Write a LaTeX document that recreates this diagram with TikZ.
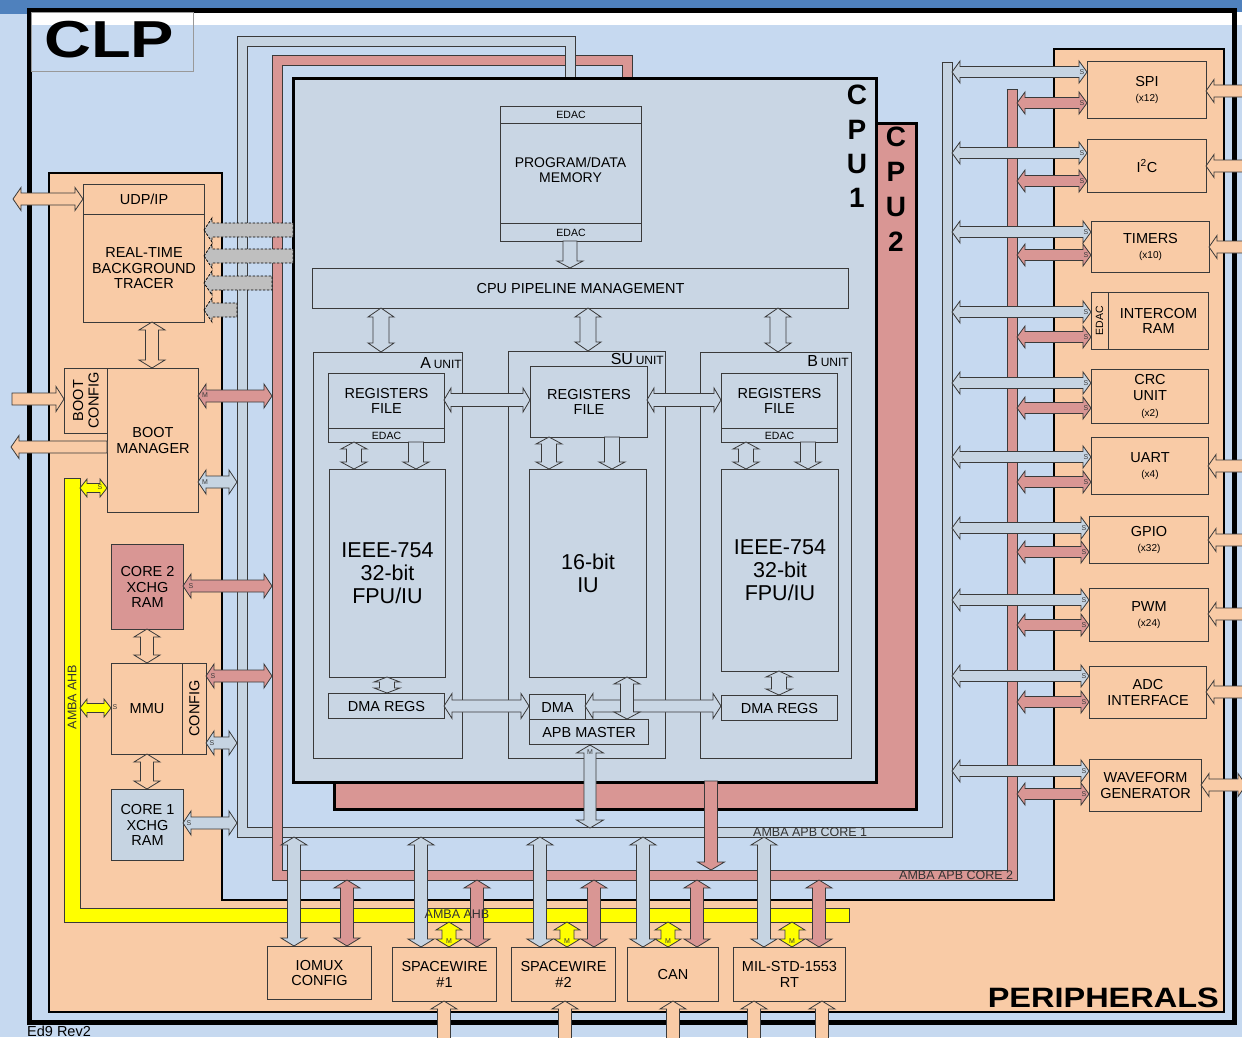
\documentclass[tikz,border=0pt]{standalone}
\usepackage{fontspec}
\setmainfont{Liberation Sans}
\definecolor{bgblue}{HTML}{C6D9F0}
\definecolor{topblue}{HTML}{4F81BD}
\definecolor{cpublue}{HTML}{C9D6E4}
\definecolor{busblue}{HTML}{C6D4E2}
\definecolor{pinkred}{HTML}{D99694}
\definecolor{orng}{HTML}{F9CBA6}
\definecolor{yel}{HTML}{FFFF00}
\definecolor{grayarr}{HTML}{BFBFBF}
\definecolor{ln}{HTML}{3A3A3A}
\tikzset{
  arr/.style={draw=ln, line width=0.8pt, line join=miter},
  box/.style={draw=ln, line width=1pt, fill=cpublue, inner sep=0pt, align=center, text=black, font=\fontsize{14.5}{15.5}\selectfont},
  obox/.style={box, fill=orng},
  edac/.style={font=\fontsize{10.5}{11}\selectfont},
  bigt/.style={font=\fontsize{21.5}{23}\selectfont},
  cpul/.style={font=\fontsize{28}{28}\selectfont\bfseries, inner sep=0pt, text=black},
  tag/.style={font=\fontsize{7}{7}\selectfont, inner sep=0pt, text=ln},
  busl/.style={font=\fontsize{12.5}{13}\selectfont, inner sep=0pt, text=black!80},
  rot/.style={rotate=90, inner sep=0pt, align=center, font=\fontsize{14.5}{15.5}\selectfont},
}
% double horizontal arrow: [style]{fill}{xa}{xb}{y}{s}{h}{l}
\newcommand\dblH[8][]{\filldraw[arr,fill=#2,#1] (#3,#5) -- ({#3+#8},{#5-#7}) -- ({#3+#8},{#5-#6}) -- ({#4-#8},{#5-#6}) -- ({#4-#8},{#5-#7}) -- (#4,#5) -- ({#4-#8},{#5+#7}) -- ({#4-#8},{#5+#6}) -- ({#3+#8},{#5+#6}) -- ({#3+#8},{#5+#7}) -- cycle;}
% double vertical arrow: [style]{fill}{x}{ya}{yb}{s}{h}{l}
\newcommand\dblV[8][]{\filldraw[arr,fill=#2,#1] (#3,#4) -- ({#3+#7},{#4+#8}) -- ({#3+#6},{#4+#8}) -- ({#3+#6},{#5-#8}) -- ({#3+#7},{#5-#8}) -- (#3,#5) -- ({#3-#7},{#5-#8}) -- ({#3-#6},{#5-#8}) -- ({#3-#6},{#4+#8}) -- ({#3-#7},{#4+#8}) -- cycle;}
% single left-pointing arrow (tip at xa)
\newcommand\arrL[8][]{\filldraw[arr,fill=#2,#1] (#3,#5) -- ({#3+#8},{#5-#7}) -- ({#3+#8},{#5-#6}) -- (#4,{#5-#6}) -- (#4,{#5+#6}) -- ({#3+#8},{#5+#6}) -- ({#3+#8},{#5+#7}) -- cycle;}
% single right-pointing arrow (tip at xb)
\newcommand\arrR[8][]{\filldraw[arr,fill=#2,#1] (#4,#5) -- ({#4-#8},{#5-#7}) -- ({#4-#8},{#5-#6}) -- (#3,{#5-#6}) -- (#3,{#5+#6}) -- ({#4-#8},{#5+#6}) -- ({#4-#8},{#5+#7}) -- cycle;}
% single down arrow (tip at yb)
\newcommand\arrD[8][]{\filldraw[arr,fill=#2,#1] (#3,#5) -- ({#3-#7},{#5-#8}) -- ({#3-#6},{#5-#8}) -- ({#3-#6},#4) -- ({#3+#6},#4) -- ({#3+#6},{#5-#8}) -- ({#3+#7},{#5-#8}) -- cycle;}
% box: [style]{name}{x1}{y1}{x2}{y2}{text}
\newcommand\blk[7][]{\node[box,#1,anchor=north west,minimum width={#5-#3},minimum height={#6-#4}] (#2) at (#3,#4) {#7};}
\newcommand\subt[1]{{\fontsize{10}{11}\selectfont #1}}
\begin{document}
\begin{tikzpicture}[x=1pt,y=-1pt]
\useasboundingbox (0,0) rectangle (1242,1037);
% background
\fill[bgblue] (0,0) rectangle (1242,1037);
\fill[topblue] (0,0) rectangle (1242,14);
\fill[white] (29,12) rectangle (1242,25);
\draw[black, line width=5pt] (29,10) rectangle (1234,1022);
\node[draw=gray!80, line width=0.8pt, anchor=north west, minimum width=162, minimum height=59, inner sep=0pt] (clpbox) at (31,12) {};
\node[anchor=base west, inner sep=0pt, font=\fontsize{52}{52}\selectfont\bfseries] (clp) at (44,57) {\scalebox{1.25}[1]{CLP}};
% peripherals region
\draw[draw=black, fill=orng, line width=2.2pt] (49,173) -- (222,173) -- (222,900) -- (1054,900) -- (1054,49) -- (1224,49) -- (1224,1012) -- (49,1012) -- cycle;
% AMBA AHB
\draw[fill=yel, draw=ln, line width=0.8pt] (64,478) -- (80,478) -- (80,908) -- (849,908) -- (849,922) -- (64,922) -- cycle;
% AMBA APB core 1
\draw[ln, line width=11pt] (947,62) -- (947,832) -- (242,832) -- (242,41) -- (570,41) -- (570,97);
\draw[busblue, line width=9pt] (947,62) -- (947,832) -- (242,832) -- (242,41) -- (570,41) -- (570,97);
\draw[ln, line width=0.8pt] (941.5,62) -- (952.5,62);
% AMBA APB core 2
\draw[ln, line width=11pt] (1012,89) -- (1012,875) -- (277,875) -- (277,60) -- (627,60) -- (627,80);
\draw[pinkred, line width=9pt] (1012,89) -- (1012,875) -- (277,875) -- (277,60) -- (627,60) -- (627,80);
\draw[ln, line width=0.8pt] (1006.5,89) -- (1017.5,89);
\draw[ln, line width=11pt] (277,822) -- (277,842);
\draw[pinkred, line width=9pt] (277,820) -- (277,844);
\draw[ln, line width=11pt] (570,52) -- (570,97);
\draw[busblue, line width=9pt] (570,41) -- (570,97);
\filldraw[fill=busblue, draw=ln, line width=0.8pt] (557,97) -- (583,97) -- (570,106) -- cycle;
% CPUs
\node[draw=black, line width=2.5pt, fill=pinkred, anchor=north west, minimum width=582, minimum height=686, inner sep=0pt] (cpu2) at (333,122) {};
\node[draw=black, line width=2.5pt, fill=cpublue, anchor=north west, minimum width=583, minimum height=704, inner sep=0pt] (cpu1) at (292,77) {};
\node[cpul] (c1c) at (857,95) {C};
\node[cpul] (c1p) at (857,130) {P};
\node[cpul] (c1u) at (857,164) {U};
\node[cpul] (c1n) at (857,198) {1};
\node[cpul] (c2c) at (896,137) {C};
\node[cpul] (c2p) at (896,172) {P};
\node[cpul] (c2u) at (896,207) {U};
\node[cpul] (c2n) at (896,242) {2};
% memory and pipeline
\blk[edac]{memtop}{500}{106}{641}{123}{EDAC}
\blk{mem}{500}{123}{641}{223}{}
\node[inner sep=0pt, align=center, font=\fontsize{14}{15.5}\selectfont] (memt) at (570.5,170) {PROGRAM/DATA\\MEMORY};
\blk[edac]{membot}{500}{223}{641}{241}{EDAC}
\blk{pipe}{312}{268}{848}{308}{CPU PIPELINE MANAGEMENT}
\arrD{cpublue}{570}{241}{268}{7}{13}{7}
% units
\blk{aunit}{313}{352}{462}{758}{}
\blk{suunit}{508}{351}{665}{758}{}
\blk{bunit}{700}{352}{851}{758}{}
\node[anchor=base east, inner sep=0pt] (alab) at (462,368) {{\fontsize{16}{16}\selectfont A} {\fontsize{12}{12}\selectfont UNIT}};
\node[anchor=base east, inner sep=0pt] (sulab) at (664,364) {{\fontsize{16}{16}\selectfont SU} {\fontsize{12}{12}\selectfont UNIT}};
\node[anchor=base east, inner sep=0pt] (blab) at (849,366) {{\fontsize{16}{16}\selectfont B} {\fontsize{12}{12}\selectfont UNIT}};
\dblV{cpublue}{381}{308}{352}{8}{13}{9}
\dblV{cpublue}{588}{308}{351}{8}{13}{9}
\dblV{cpublue}{778}{308}{352}{8}{13}{9}
% A unit
\blk{aregs}{328}{373}{444}{428}{REGISTERS\\FILE}
\blk[edac]{aedac}{328}{428}{444}{442}{EDAC}
\blk[bigt]{afpu}{329}{469}{445}{677}{IEEE-754\\32-bit\\FPU/IU}
\blk{adma}{328}{693}{444}{718}{DMA REGS}
\dblV{cpublue}{354}{442}{469}{7.5}{13}{7}
\arrD{cpublue}{416}{442}{469}{7.5}{13}{7}
\dblV{cpublue}{387}{677}{693}{7.5}{13}{5}
% SU unit
\blk{suregs}{530}{366}{647}{437}{REGISTERS\\FILE}
\blk[bigt]{suiu}{529}{469}{646}{677}{16-bit\\IU}
\blk{sudma}{529}{694}{585}{719}{DMA}
\blk{apbm}{529}{719}{648}{744}{APB MASTER}
\dblV{cpublue}{549}{437}{469}{7.5}{13}{7}
\arrD{cpublue}{612}{437}{469}{7.5}{13}{7}
% B unit
\blk{bregs}{721}{373}{837}{428}{REGISTERS\\FILE}
\blk[edac]{bedac}{721}{428}{837}{442}{EDAC}
\blk[bigt]{bfpu}{721}{469}{838}{671}{IEEE-754\\32-bit\\FPU/IU}
\blk{bdma}{721}{695}{837}{720}{DMA REGS}
\dblV{cpublue}{746}{442}{469}{7.5}{13}{7}
\arrD{cpublue}{808}{442}{469}{7.5}{13}{7}
\dblV{cpublue}{779}{671}{695}{7.5}{13}{6}
% unit interconnect
\dblH{cpublue}{444}{530}{400}{6.5}{12}{7}
\dblH{cpublue}{647}{721}{400}{6.5}{12}{7}
\dblH{cpublue}{444}{529}{706}{6}{12.5}{8}
\dblH{cpublue}{585}{721}{706}{6}{12.5}{8}
\dblV{cpublue}{627}{677}{719}{6.5}{13}{7}
% CPU to buses
\dblV{busblue}{590}{745}{828}{6}{13.5}{8}
\node[tag] at (590,752) {M};
\arrD{pinkred}{711}{781}{870}{6.5}{13.5}{8}
% left side boxes
\blk[obox]{udp}{83}{184}{204}{214}{UDP/IP}
\blk[obox]{rtbt}{83}{214}{204}{322}{REAL-TIME\\BACKGROUND\\TRACER}
\blk[obox]{bcfg}{64}{368}{107}{433}{}
\node[rot] (bcfgt) at (86,400.5) {BOOT\\CONFIG};
\blk[obox]{bmgr}{107}{368}{198}{512}{BOOT\\MANAGER}
\blk[box,fill=pinkred]{core2}{111}{544}{183}{629}{CORE 2\\XCHG\\RAM}
\blk[obox]{mmu}{111}{663}{182}{754}{MMU}
\blk[obox]{mcfg}{182}{663}{206}{754}{}
\node[rot] (mcfgt) at (194.5,708.5) {CONFIG};
\blk[box,fill=busblue]{core1}{111}{789}{183}{860}{CORE 1\\XCHG\\RAM}
% left side arrows
\dblH{orng}{13}{83}{199}{6}{11.5}{8}
\arrL[dash pattern=on 2.5pt off 1.5pt, draw=black]{grayarr}{204}{293}{230}{7}{12}{8}
\arrL[dash pattern=on 2.5pt off 1.5pt, draw=black]{grayarr}{204}{293}{256}{7}{12}{8}
\arrL[dash pattern=on 2.5pt off 1.5pt, draw=black]{grayarr}{204}{272}{283}{7}{12}{8}
\arrL[dash pattern=on 2.5pt off 1.5pt, draw=black]{grayarr}{204}{237}{310}{7}{12}{8}
\dblV{orng}{152}{322}{368}{6.5}{13}{8}
\arrR{orng}{12}{64}{399}{6}{12.5}{8}
\arrL{orng}{11}{107}{447}{6}{11.5}{8}
\dblH{pinkred}{198}{272}{396}{6}{12}{8}
\node[tag] at (205,395) {M};
\dblH{busblue}{198}{237}{482}{6}{12}{8}
\node[tag] at (205,482) {M};
\dblH{yel}{80}{107}{488}{4.5}{9}{7}
\node[tag] at (100,487) {S};
\dblH{pinkred}{183}{272}{586}{6}{12}{8}
\node[tag] at (191,586) {S};
\dblV{orng}{147}{629}{663}{6.5}{13}{8}
\dblH{yel}{80}{111}{708}{4.5}{9}{7}
\node[tag] at (115,707) {S};
\dblH{pinkred}{206}{272}{676}{6}{12}{8}
\node[tag] at (213,676) {S};
\dblH{busblue}{206}{237}{743}{6}{12}{8}
\node[tag] at (212,743) {S};
\dblV{orng}{147}{754}{789}{6.5}{13}{8}
\dblH{busblue}{183}{237}{823}{6}{12}{8}
\node[tag] at (189,823) {S};
% bottom peripherals
\blk[obox]{iomux}{267}{946}{371}{999}{IOMUX\\CONFIG}
\blk[obox]{spw1}{392}{947}{496}{1001}{SPACEWIRE\\\#1}
\blk[obox]{spw2}{511}{947}{615}{1001}{SPACEWIRE\\\#2}
\blk[obox]{can}{627}{947}{718}{1001}{CAN}
\blk[obox]{mil}{733}{947}{845}{1001}{MIL-STD-1553\\RT}
\dblV{busblue}{294}{837}{946}{6.5}{13}{8}
\dblV{pinkred}{347}{880}{946}{6.5}{13}{8}
\foreach \xb/\xyl/\xr in {421/449/477, 540/567/594, 643/668/697, 764/792/819} {
  \dblV{busblue}{\xb}{837}{947}{6.5}{13}{8}
  \dblV{pinkred}{\xr}{880}{947}{6.5}{13}{8}
  \dblV{yel}{\xyl}{922}{947}{7}{13}{8}
  \node[tag] at (\xyl,941) {M};
}
\foreach \xo in {444,565,673,754,822} {
  \dblV{orng}{\xo}{1001}{1048}{6.5}{13}{8}
}
% right peripherals
\blk[obox]{spi}{1087}{61}{1206}{118}{SPI\\\subt{(x12)}}
\blk[obox]{i2c}{1087}{139}{1206}{192}{I\textsuperscript{2}C}
\blk[obox]{tim}{1091}{221}{1209}{272}{TIMERS\\\subt{(x10)}}
\blk[obox]{icedac}{1091}{292}{1108}{349}{}
\node[rot, edac] (icedact) at (1099.5,320.5) {EDAC};
\blk[obox]{icr}{1108}{292}{1208}{349}{INTERCOM\\RAM}
\blk[obox]{crc}{1091}{369}{1208}{423}{CRC\\UNIT\\[1pt]\subt{(x2)}}
\blk[obox]{uart}{1091}{437}{1208}{494}{UART\\\subt{(x4)}}
\blk[obox]{gpio}{1089}{516}{1208}{563}{GPIO\\\subt{(x32)}}
\blk[obox]{pwm}{1089}{588}{1208}{641}{PWM\\\subt{(x24)}}
\blk[obox]{adc}{1089}{666}{1206}{718}{ADC\\INTERFACE}
\blk[obox]{wave}{1089}{759}{1201}{811}{WAVEFORM\\GENERATOR}
\foreach \bl/\yb/\yr in {1087/72/103, 1087/153/181, 1091/232/255, 1091/312/337, 1091/383/408, 1091/457/482, 1089/528/552, 1089/600/625, 1089/676/702, 1089/771/794} {
  \dblH{busblue}{952}{\bl}{\yb}{5.5}{11}{8}
  \dblH{pinkred}{1017}{\bl}{\yr}{5.5}{11}{8}
  \node[tag] at (\bl-5,\yb) {S};
  \node[tag] at (\bl-5,\yr) {S};
}
\foreach \tx/\ty in {1206/91, 1206/166, 1209/247, 1208/466, 1208/540, 1208/614, 1206/692} {
  \arrL{orng}{\tx}{1252}{\ty}{6}{11.5}{8}
}
\dblH{orng}{1201}{1246}{785}{6}{11.5}{8}
% bus labels
\node[busl, anchor=base west] (apb1l) at (753,836.5) {AMBA APB CORE 1};
\node[busl, anchor=base west] (apb2l) at (899,879) {AMBA APB CORE 2};
\node[busl, anchor=base] (ahbl) at (457,918.5) {AMBA AHB};
\node[busl, rotate=90] (ahbv) at (72,697) {AMBA AHB};
% big labels
\node[anchor=base east, inner sep=0pt, font=\fontsize{28}{28}\selectfont\bfseries] (perl) at (1219,1007) {\scalebox{1.16}[1]{PERIPHERALS}};
\node[anchor=base west, inner sep=0pt, font=\fontsize{14.5}{15}\selectfont] (edl) at (27,1036) {Ed9 Rev2};
\end{tikzpicture}
\end{document}
